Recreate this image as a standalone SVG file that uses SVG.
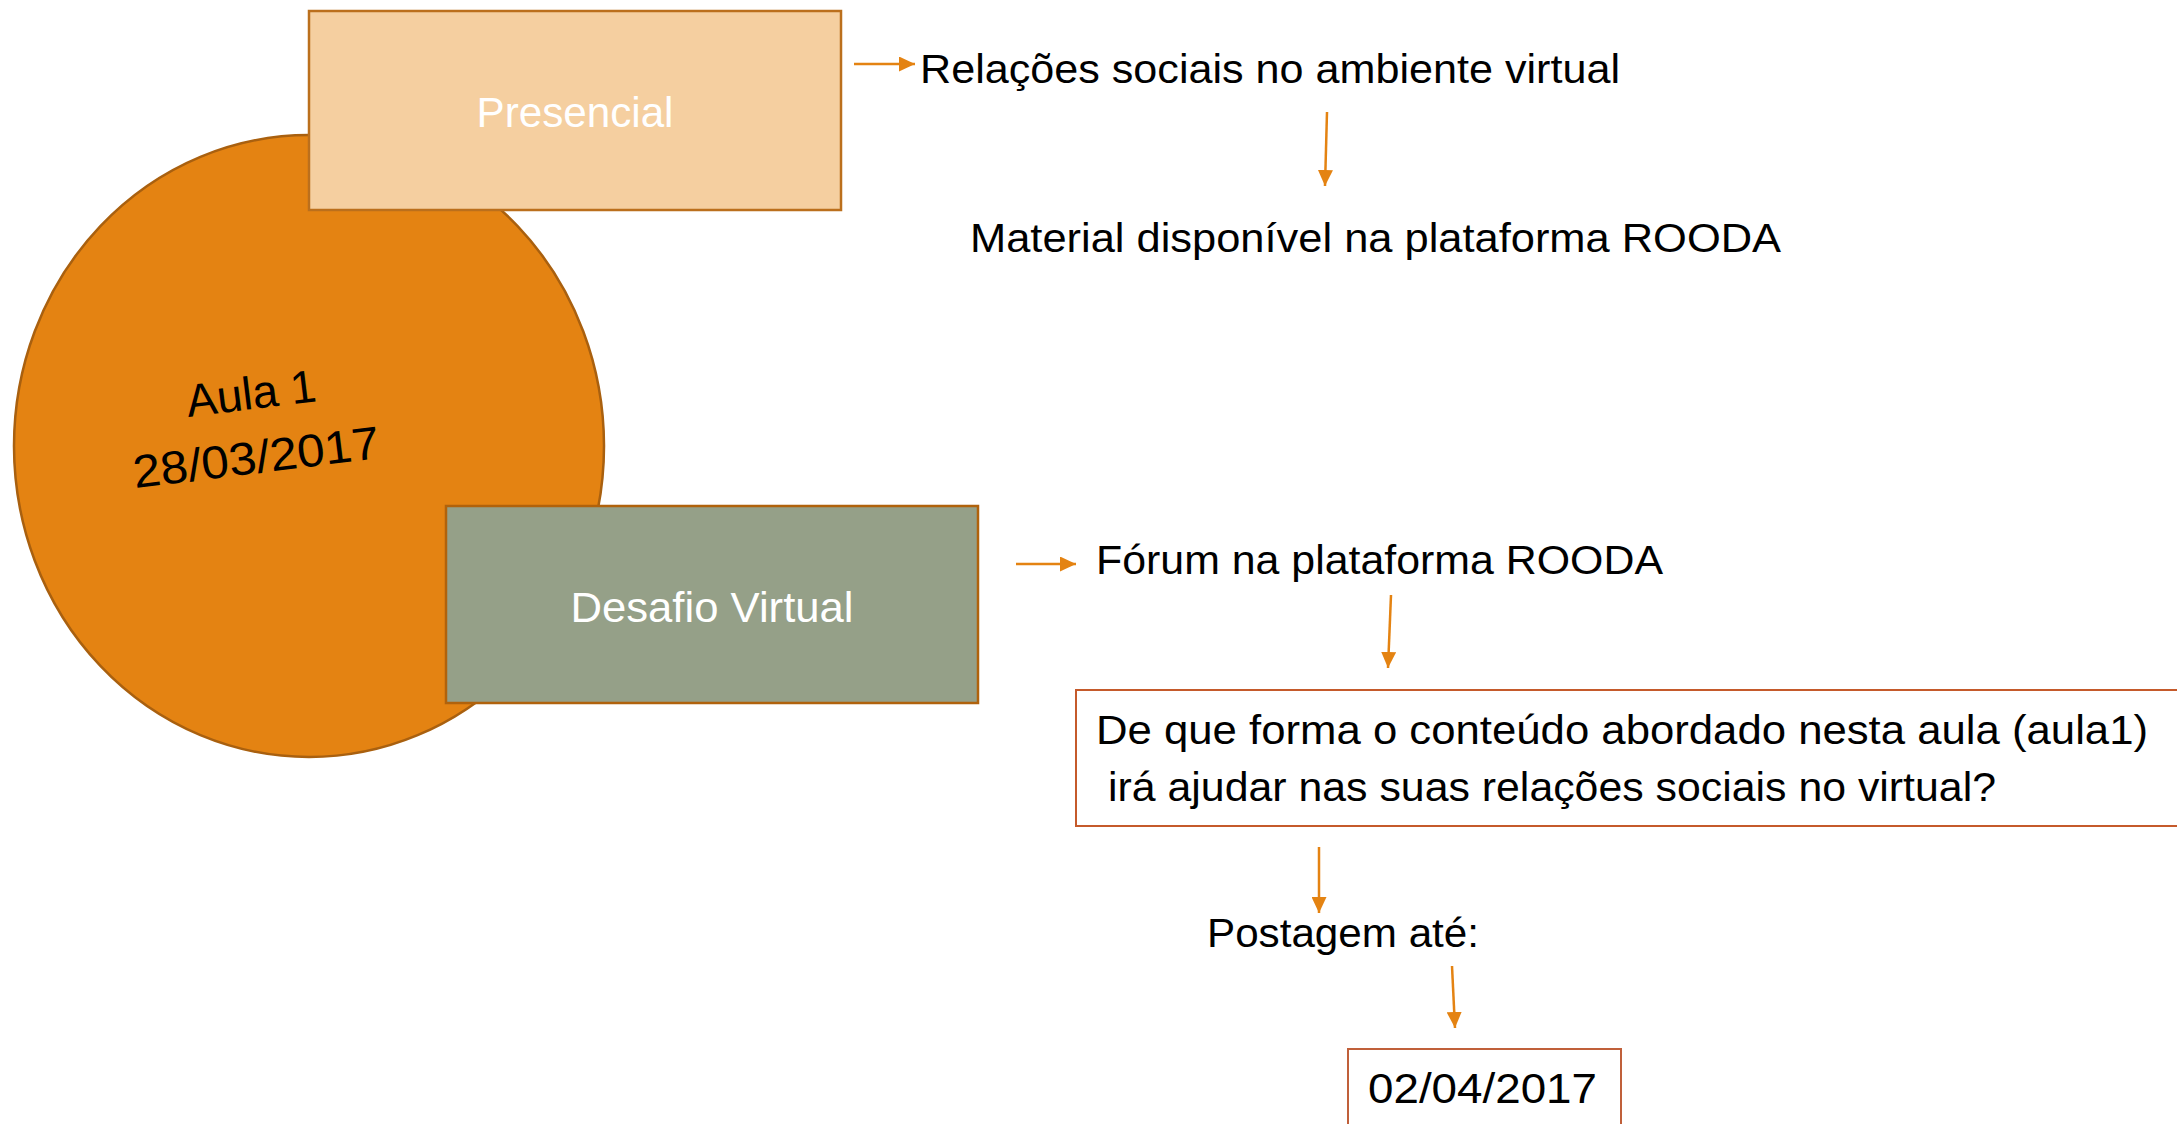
<svg xmlns="http://www.w3.org/2000/svg" width="2177" height="1124" viewBox="0 0 2177 1124">
<style>
.t{font-family:"Liberation Sans",Arial,sans-serif;font-size:40px;fill:#000}
.w{font-family:"Liberation Sans",Arial,sans-serif;font-size:42px;fill:#fff}
.c{stroke:#E48312;stroke-width:2.5;fill:none;marker-end:url(#ah)}
</style>
<defs>
<marker id="ah" markerUnits="userSpaceOnUse" markerWidth="16" markerHeight="15" refX="16" refY="7.5" orient="auto">
<path d="M0,0 L16,7.5 L0,15 z" fill="#E48312"/>
</marker>
</defs>
<rect width="2177" height="1124" fill="#fff"/>
<g id="aula1">
<ellipse cx="309" cy="446" rx="295" ry="311" fill="#E48312" stroke="#A9600F" stroke-width="2.5"/>
<text class="t" style="font-size:46px" x="253" y="409" text-anchor="middle" transform="rotate(-7 253 409)">Aula 1</text>
<text class="t" style="font-size:46px" x="258" y="473" text-anchor="middle" textLength="248" lengthAdjust="spacingAndGlyphs" transform="rotate(-7 258 473)">28/03/2017</text>
</g>
<g id="presencial">
<rect x="309" y="11" width="532" height="199" fill="#F5CFA0" stroke="#BB6F1C" stroke-width="2.5"/>
<text class="w" x="575" y="127" text-anchor="middle" textLength="197" lengthAdjust="spacingAndGlyphs">Presencial</text>
</g>
<g id="desafio">
<rect x="446" y="506" width="532" height="197" fill="#95A088" stroke="#B0620C" stroke-width="2.5"/>
<text class="w" x="712" y="622" text-anchor="middle" textLength="283" lengthAdjust="spacingAndGlyphs">Desafio Virtual</text>
</g>
<g id="relacoes">
<text class="t" x="920" y="83" textLength="700" lengthAdjust="spacingAndGlyphs">Relações sociais no ambiente virtual</text>
</g>
<g id="material">
<text class="t" x="970" y="252" textLength="811" lengthAdjust="spacingAndGlyphs">Material disponível na plataforma ROODA</text>
</g>
<g id="forum">
<text class="t" x="1096" y="574" textLength="567" lengthAdjust="spacingAndGlyphs">Fórum na plataforma ROODA</text>
</g>
<g id="pergunta">
<rect x="1076" y="690" width="1120" height="136" fill="#fff" stroke="#C55A2B" stroke-width="2"/>
<text class="t" x="1096" y="744" textLength="1052" lengthAdjust="spacingAndGlyphs">De que forma o conteúdo abordado nesta aula (aula1)</text>
<text class="t" x="1108" y="801" textLength="888" lengthAdjust="spacingAndGlyphs">irá ajudar nas suas relações sociais no virtual?</text>
</g>
<g id="postagem">
<text class="t" x="1207" y="947" textLength="272" lengthAdjust="spacingAndGlyphs">Postagem até:</text>
</g>
<g id="data">
<rect x="1348" y="1049" width="273" height="100" fill="#fff" stroke="#C0603A" stroke-width="2"/>
<text class="t" style="font-size:43px" x="1368" y="1103" textLength="229" lengthAdjust="spacingAndGlyphs">02/04/2017</text>
</g>
<g id="connectors">
<line class="c" x1="854" y1="64" x2="915" y2="64"/>
<line class="c" x1="1327" y1="112" x2="1325" y2="186"/>
<line class="c" x1="1016" y1="564" x2="1076" y2="564"/>
<line class="c" x1="1391" y1="595" x2="1388" y2="668"/>
<line class="c" x1="1319" y1="847" x2="1319" y2="913"/>
<line class="c" x1="1452" y1="966" x2="1455" y2="1028"/>
</g>
</svg>
